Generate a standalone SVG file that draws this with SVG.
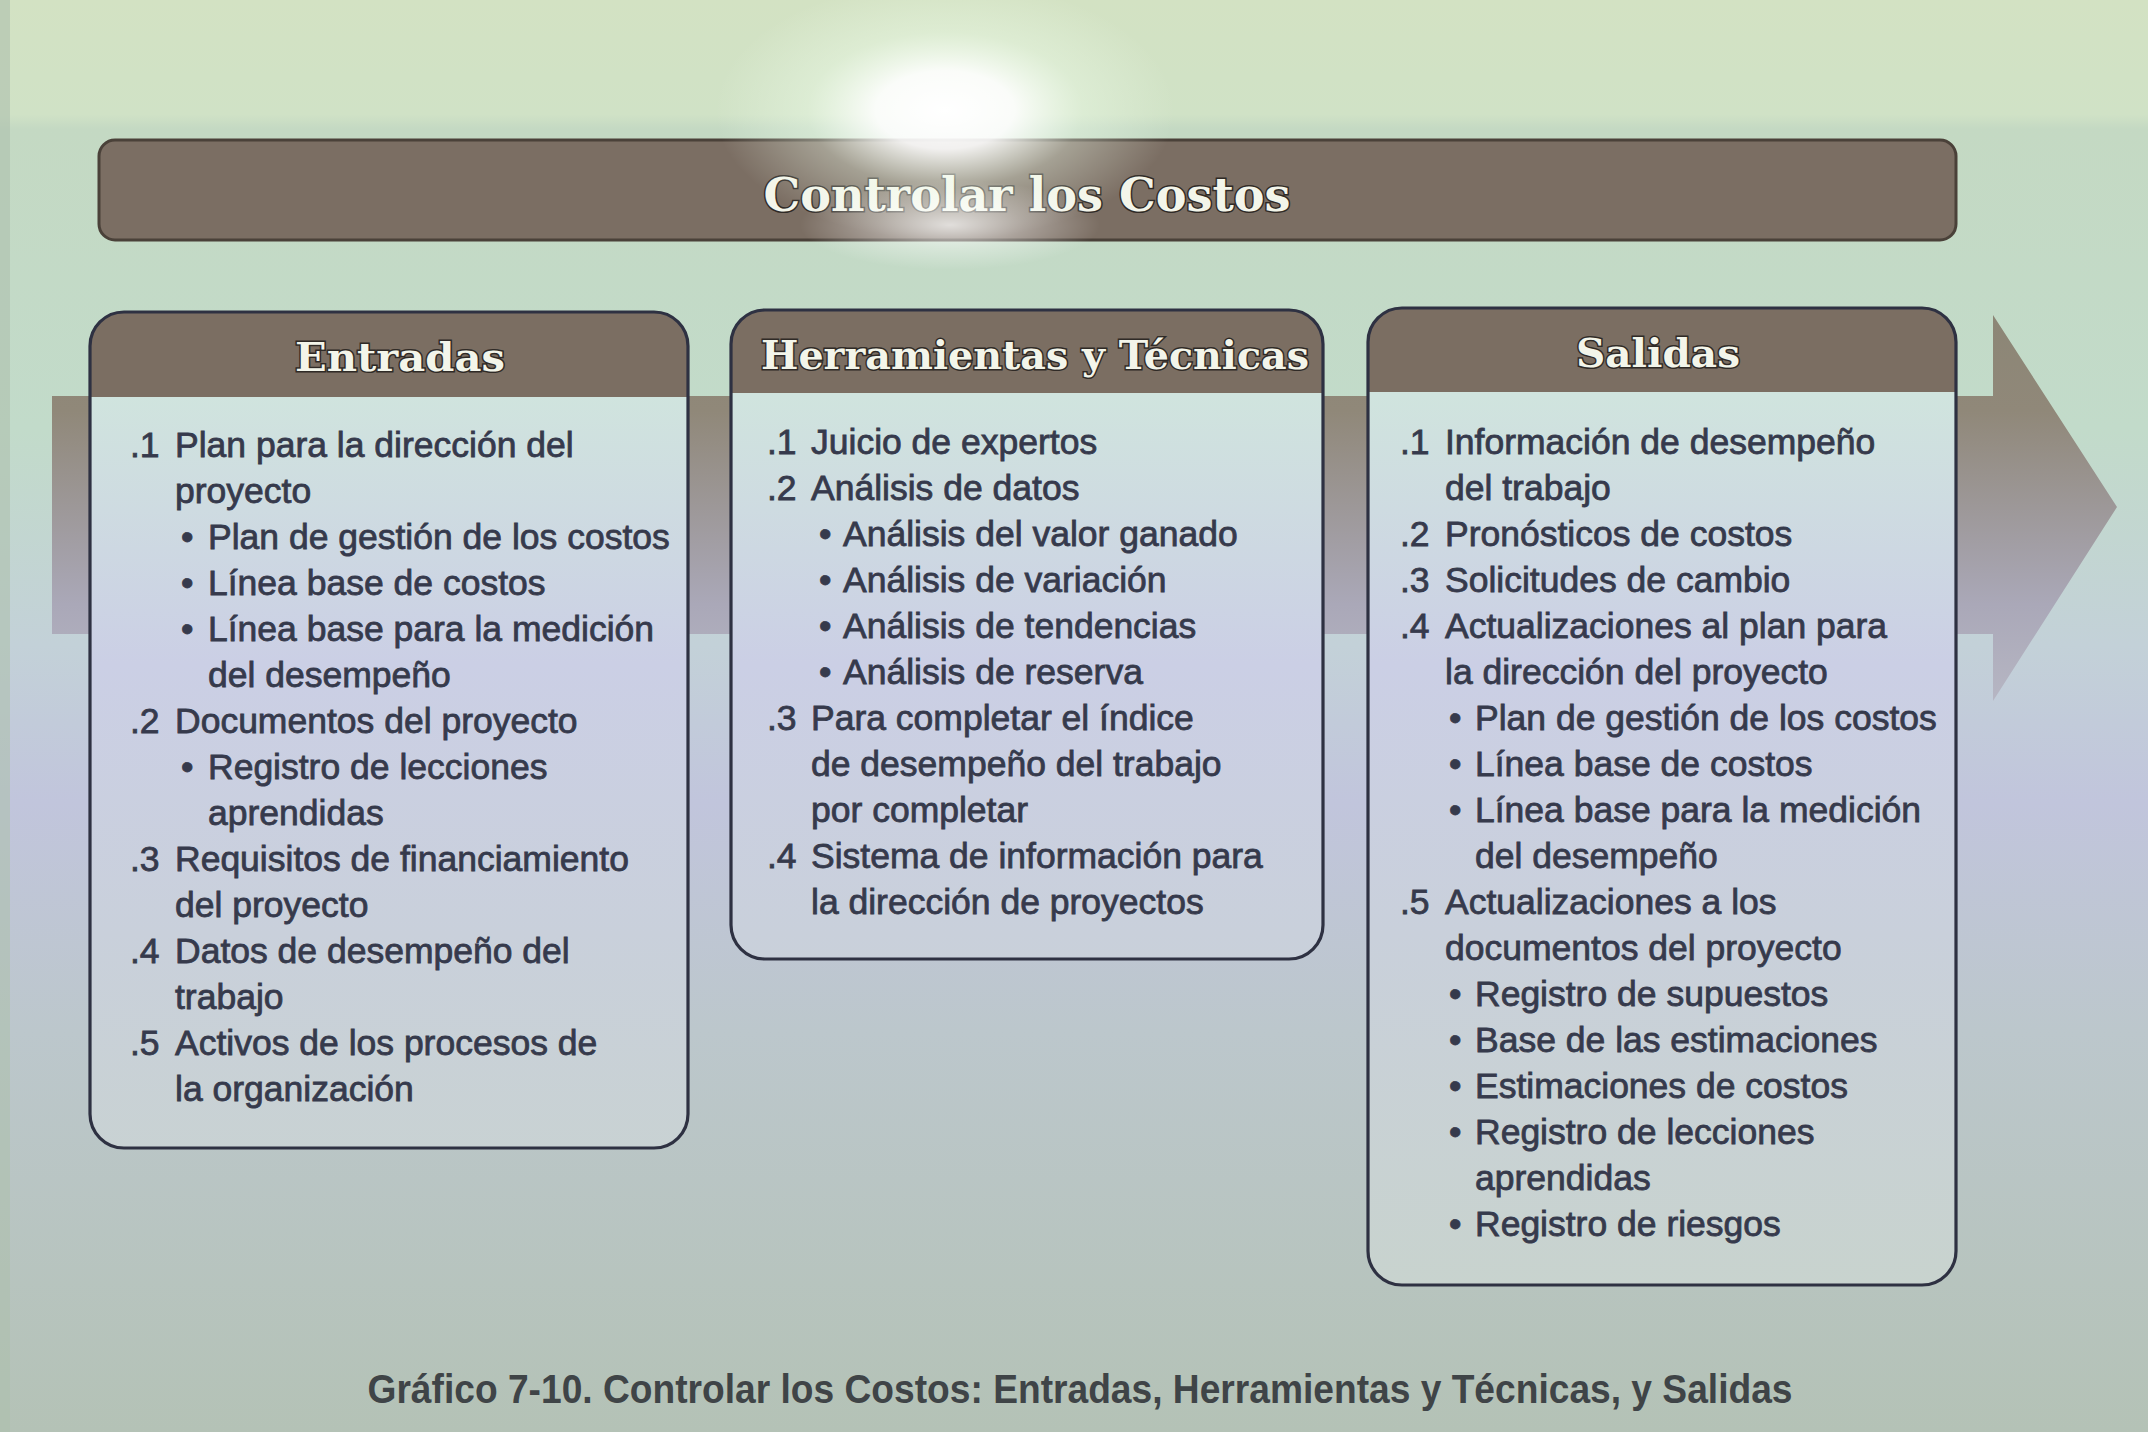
<svg xmlns="http://www.w3.org/2000/svg" width="2148" height="1432" viewBox="0 0 2148 1432">
<defs>
<linearGradient id="bg" x1="0" y1="0" x2="0" y2="1432" gradientUnits="userSpaceOnUse">
<stop offset="0" stop-color="#d3e2c3"/>
<stop offset="0.08" stop-color="#d0e2c6"/>
<stop offset="0.09" stop-color="#c4d9c3"/>
<stop offset="0.3" stop-color="#c2dbca"/>
<stop offset="0.45" stop-color="#c3d1d8"/>
<stop offset="0.56" stop-color="#c1c5dc"/>
<stop offset="0.72" stop-color="#bcc7cc"/>
<stop offset="1" stop-color="#b4c2b6"/>
</linearGradient>
<linearGradient id="body" x1="0" y1="395" x2="0" y2="1290" gradientUnits="userSpaceOnUse">
<stop offset="0" stop-color="#d0e4de"/>
<stop offset="0.3" stop-color="#cbcfe5"/>
<stop offset="0.6" stop-color="#c9d0db"/>
<stop offset="1" stop-color="#c8d3ce"/>
</linearGradient>
<linearGradient id="arrow" x1="0" y1="315" x2="0" y2="701" gradientUnits="userSpaceOnUse">
<stop offset="0" stop-color="#8c8676"/>
<stop offset="0.25" stop-color="#908879"/>
<stop offset="0.75" stop-color="#aaa8b8"/>
<stop offset="1" stop-color="#b6b6c3"/>
</linearGradient>
<radialGradient id="glare" cx="0.5" cy="0.5" r="0.5">
<stop offset="0" stop-color="#ffffff" stop-opacity="1"/>
<stop offset="0.3" stop-color="#ffffff" stop-opacity="0.9"/>
<stop offset="0.6" stop-color="#f2ffee" stop-opacity="0.35"/>
<stop offset="1" stop-color="#f2ffee" stop-opacity="0"/>
</radialGradient>
<radialGradient id="streak" cx="0.5" cy="0.5" r="0.5">
<stop offset="0" stop-color="#ffffff" stop-opacity="0.75"/>
<stop offset="0.5" stop-color="#ffffff" stop-opacity="0.35"/>
<stop offset="1" stop-color="#ffffff" stop-opacity="0"/>
</radialGradient>
<style>
.hdr{fill:#7b6e62}
.frame{fill:none;stroke:#2e3142;stroke-width:3.2}
.htxt{font-family:"DejaVu Serif","Liberation Serif",serif;font-weight:bold;font-size:40px;fill:#f3f5ea;stroke:#2f2a26;stroke-width:3;paint-order:stroke;text-anchor:middle}
.t{font-family:"Liberation Sans",Arial,sans-serif;font-size:35.5px;fill:#363a4c;stroke:#363a4c;stroke-width:0.8}
.cap{font-family:"Liberation Sans",Arial,sans-serif;font-weight:bold;font-size:40px;fill:#3f4447;text-anchor:middle}
</style>
</defs>
<rect x="0" y="0" width="2148" height="1432" fill="url(#bg)"/>
<rect x="0" y="0" width="10" height="1432" fill="#aebfae" opacity="0.6"/>

<g id="arrow-band">
<path d="M52,396 H1993 V315 L2117,507 L1993,701 V634 H52 Z" fill="url(#arrow)"/>
</g>

<g id="title">
<rect x="99" y="140" width="1857" height="100" rx="16" fill="#7b6e63" stroke="#4a4139" stroke-width="3"/>
<text x="1027" y="211" class="htxt" style="font-size:46px" textLength="527" lengthAdjust="spacingAndGlyphs">Controlar los Costos</text>
</g>

<g id="entradas">
<rect x="90" y="312" width="598" height="836" rx="34" fill="url(#body)"/>
<path class="hdr" d="M90,397 V346 A34,34 0 0 1 124,312 H654 A34,34 0 0 1 688,346 V397 Z"/>
<rect class="frame" x="90" y="312" width="598" height="836" rx="34"/>
<text x="400" y="371" class="htxt" textLength="210" lengthAdjust="spacingAndGlyphs">Entradas</text>
<text class="t">
<tspan x="130" y="457">.1</tspan><tspan x="175" y="457">Plan para la dirección del</tspan>
<tspan x="175" y="503">proyecto</tspan>
<tspan x="181" y="549">•</tspan><tspan x="208" y="549">Plan de gestión de los costos</tspan>
<tspan x="181" y="595">•</tspan><tspan x="208" y="595">Línea base de costos</tspan>
<tspan x="181" y="641">•</tspan><tspan x="208" y="641">Línea base para la medición</tspan>
<tspan x="208" y="687">del desempeño</tspan>
<tspan x="130" y="733">.2</tspan><tspan x="175" y="733">Documentos del proyecto</tspan>
<tspan x="181" y="779">•</tspan><tspan x="208" y="779">Registro de lecciones</tspan>
<tspan x="208" y="825">aprendidas</tspan>
<tspan x="130" y="871">.3</tspan><tspan x="175" y="871">Requisitos de financiamiento</tspan>
<tspan x="175" y="917">del proyecto</tspan>
<tspan x="130" y="963">.4</tspan><tspan x="175" y="963">Datos de desempeño del</tspan>
<tspan x="175" y="1009">trabajo</tspan>
<tspan x="130" y="1055">.5</tspan><tspan x="175" y="1055">Activos de los procesos de</tspan>
<tspan x="175" y="1101">la organización</tspan>
</text>
</g>

<g id="herramientas">
<rect x="731" y="310" width="592" height="649" rx="34" fill="url(#body)"/>
<path class="hdr" d="M731,393 V344 A34,34 0 0 1 765,310 H1289 A34,34 0 0 1 1323,344 V393 Z"/>
<rect class="frame" x="731" y="310" width="592" height="649" rx="34"/>
<text x="1035" y="369" class="htxt" textLength="548" lengthAdjust="spacingAndGlyphs">Herramientas y Técnicas</text>
<text class="t">
<tspan x="767" y="454">.1</tspan><tspan x="811" y="454">Juicio de expertos</tspan>
<tspan x="767" y="500">.2</tspan><tspan x="811" y="500">Análisis de datos</tspan>
<tspan x="819" y="546">•</tspan><tspan x="843" y="546">Análisis del valor ganado</tspan>
<tspan x="819" y="592">•</tspan><tspan x="843" y="592">Análisis de variación</tspan>
<tspan x="819" y="638">•</tspan><tspan x="843" y="638">Análisis de tendencias</tspan>
<tspan x="819" y="684">•</tspan><tspan x="843" y="684">Análisis de reserva</tspan>
<tspan x="767" y="730">.3</tspan><tspan x="811" y="730">Para completar el índice</tspan>
<tspan x="811" y="776">de desempeño del trabajo</tspan>
<tspan x="811" y="822">por completar</tspan>
<tspan x="767" y="868">.4</tspan><tspan x="811" y="868">Sistema de información para</tspan>
<tspan x="811" y="914">la dirección de proyectos</tspan>
</text>
</g>

<g id="salidas">
<rect x="1368" y="308" width="588" height="977" rx="34" fill="url(#body)"/>
<path class="hdr" d="M1368,392 V342 A34,34 0 0 1 1402,308 H1922 A34,34 0 0 1 1956,342 V392 Z"/>
<rect class="frame" x="1368" y="308" width="588" height="977" rx="34"/>
<text x="1658" y="367" class="htxt" textLength="164" lengthAdjust="spacingAndGlyphs">Salidas</text>
<text class="t">
<tspan x="1400" y="454">.1</tspan><tspan x="1445" y="454">Información de desempeño</tspan>
<tspan x="1445" y="500">del trabajo</tspan>
<tspan x="1400" y="546">.2</tspan><tspan x="1445" y="546">Pronósticos de costos</tspan>
<tspan x="1400" y="592">.3</tspan><tspan x="1445" y="592">Solicitudes de cambio</tspan>
<tspan x="1400" y="638">.4</tspan><tspan x="1445" y="638">Actualizaciones al plan para</tspan>
<tspan x="1445" y="684">la dirección del proyecto</tspan>
<tspan x="1449" y="730">•</tspan><tspan x="1475" y="730">Plan de gestión de los costos</tspan>
<tspan x="1449" y="776">•</tspan><tspan x="1475" y="776">Línea base de costos</tspan>
<tspan x="1449" y="822">•</tspan><tspan x="1475" y="822">Línea base para la medición</tspan>
<tspan x="1475" y="868">del desempeño</tspan>
<tspan x="1400" y="914">.5</tspan><tspan x="1445" y="914">Actualizaciones a los</tspan>
<tspan x="1445" y="960">documentos del proyecto</tspan>
<tspan x="1449" y="1006">•</tspan><tspan x="1475" y="1006">Registro de supuestos</tspan>
<tspan x="1449" y="1052">•</tspan><tspan x="1475" y="1052">Base de las estimaciones</tspan>
<tspan x="1449" y="1098">•</tspan><tspan x="1475" y="1098">Estimaciones de costos</tspan>
<tspan x="1449" y="1144">•</tspan><tspan x="1475" y="1144">Registro de lecciones</tspan>
<tspan x="1475" y="1190">aprendidas</tspan>
<tspan x="1449" y="1236">•</tspan><tspan x="1475" y="1236">Registro de riesgos</tspan>
</text>
</g>

<g id="caption">
<text x="1080" y="1403" class="cap" textLength="1425" lengthAdjust="spacingAndGlyphs">Gráfico 7-10. Controlar los Costos: Entradas, Herramientas y Técnicas, y Salidas</text>
</g>

<ellipse cx="945" cy="110" rx="230" ry="130" fill="url(#glare)"/>
<ellipse cx="950" cy="225" rx="150" ry="45" fill="url(#streak)"/>
</svg>
